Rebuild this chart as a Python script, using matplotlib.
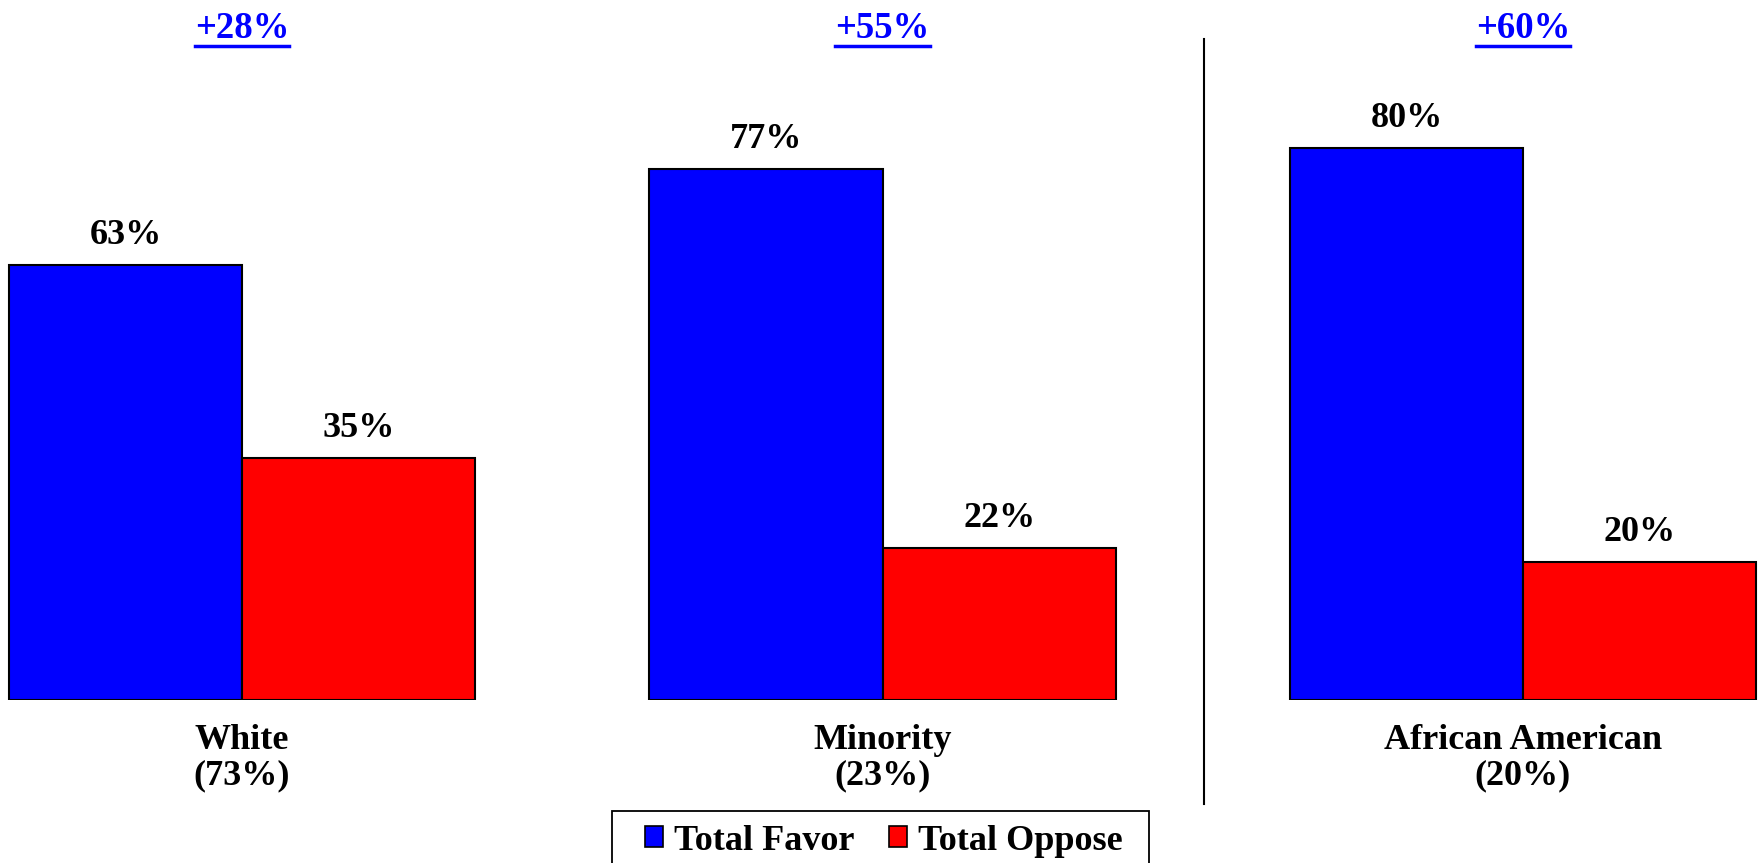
import matplotlib
matplotlib.use("Agg")
import matplotlib.pyplot as plt
from matplotlib.lines import Line2D
from matplotlib.patches import Patch, Rectangle
import matplotlib.transforms as mtransforms
import numpy as np

categories = ["White\n(73%)", "Minority\n(23%)", "African American\n(20%)"]
favor = [63, 77, 80]
oppose = [35, 22, 20]
margins = ["+28%", "+55%", "+60%"]
series_names = ["Total Favor", "Total Oppose"]

FONT = "Liberation Serif"
plt.rcParams["font.family"] = [FONT, "DejaVu Serif"]
plt.rcParams["font.weight"] = "bold"

W, H = 1763, 863
fig = plt.figure(figsize=(W / 100, H / 100), dpi=100)
ax = fig.add_axes([0, (H - 700) / H, 1, 690 / H])

x = np.arange(len(categories))
w = 0.364
b1 = ax.bar(x - w, favor, w, align="edge", color="#0000FF", edgecolor="black", linewidth=1.5)
b2 = ax.bar(x, oppose, w, align="edge", color="#FF0000", edgecolor="black", linewidth=1.5)

ax.set_xlim(-242 / 640.5, (W - 242) / 640.5)
ax.set_ylim(0, 100)

for bars, vals in ((b1, favor), (b2, oppose)):
    for r, v in zip(bars, vals):
        ax.annotate(f"{v}%", (r.get_x() + r.get_width() / 2, v), xytext=(0, 9.5),
                    textcoords="offset points", ha="center", va="bottom",
                    fontsize=26, fontweight="bold", color="black")

ax.set_xticks(x)
ax.set_xticklabels(categories, fontsize=26, fontweight="bold", linespacing=1.1)
ax.tick_params(axis="x", length=0, pad=17)
ax.set_yticks([])
for s in ax.spines.values():
    s.set_visible(False)

# margin labels at top
blend = mtransforms.blended_transform_factory(ax.transData, fig.transFigure)
tops = []
for xi, m in zip(x, margins):
    t = ax.text(xi, 1 - 38 / H, m, transform=blend, fontsize=26.5,
                fontweight="bold", color="#0000FF", ha="center", va="baseline")
    tops.append(t)

# separator line
fig.add_artist(Line2D([1204 / W, 1204 / W], [1 - 39 / H, 1 - 804 / H], color="black", linewidth=1.5))

# legend frame
fig.add_artist(Rectangle((612 / W, -0.05), (1149 - 612) / W, 1 - 811 / H + 0.05,
                         transform=fig.transFigure, facecolor="white", edgecolor="black",
                         linewidth=1.3))

handles = [Patch(facecolor="#0000FF", edgecolor="black", linewidth=1.2),
           Patch(facecolor="#FF0000", edgecolor="black", linewidth=1.2)]
leg = fig.legend(handles, series_names, loc="center left", bbox_to_anchor=(645 / W, 1 - 841 / H),
                 ncol=2, fontsize=26, frameon=False,
                 handlelength=0.5, handleheight=0.5, handletextpad=0.3, columnspacing=0.97,
                 borderpad=0, borderaxespad=0)
for txt in leg.get_texts():
    txt.set_fontweight("bold")

# underline margin labels
fig.canvas.draw()
renderer = fig.canvas.get_renderer()
for t in tops:
    bb = t.get_window_extent(renderer)
    y = 1 - 46 / H
    fig.add_artist(Line2D([bb.x0 / W, bb.x1 / W], [y, y], color="#0000FF", linewidth=2.5))

fig.savefig("out.png", dpi=100)
